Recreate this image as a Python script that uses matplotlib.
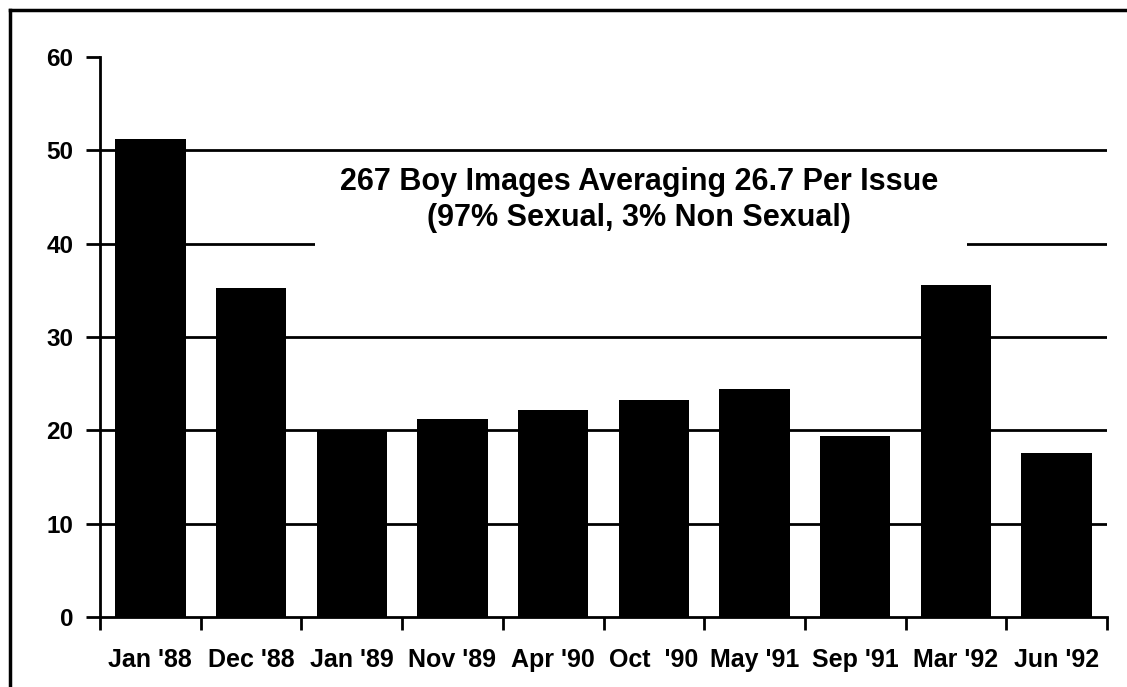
import matplotlib
matplotlib.use("Agg")
import matplotlib.pyplot as plt
from matplotlib.lines import Line2D
from matplotlib.patches import Rectangle
import numpy as np

categories = ["Jan '88", "Dec '88", "Jan '89", "Nov '89", "Apr '90",
              "Oct  '90", "May '91", "Sep '91", "Mar '92", "Jun '92"]
values = [51.2, 35.2, 19.9, 21.2, 22.2, 23.2, 24.4, 19.4, 35.6, 17.6]
yticks = [0, 10, 20, 30, 40, 50, 60]
note_lines = ["267 Boy Images Averaging 26.7 Per Issue",
              "(97% Sexual, 3% Non Sexual)"]

plt.rcParams['font.family'] = ['Liberation Sans', 'DejaVu Sans']
plt.rcParams['font.weight'] = 'bold'

fig = plt.figure(figsize=(11.27, 6.87), dpi=100)
ax = fig.add_axes([100/1127, 70/687, 1007/1127, 560/687])

x = np.arange(len(categories))
ax.bar(x, values, width=0.7, color='black', zorder=3)

ax.set_xlim(-0.5, len(categories) - 0.5)
ax.set_ylim(0, 60)
ax.set_yticks(yticks)
ax.set_yticklabels([str(t) for t in yticks], fontsize=17.5, fontweight='bold')

ax.set_xticks(x)
ax.set_xticklabels(categories, fontsize=18, fontweight='bold')
ax.set_xticks(np.arange(len(categories) + 1) - 0.5, minor=True)
ax.tick_params(axis='x', which='major', length=0, pad=22)
ax.tick_params(axis='x', which='minor', length=9, width=2, direction='out')
ax.tick_params(axis='y', which='major', length=10, width=2, pad=9)

for s in ['top', 'right']:
    ax.spines[s].set_visible(False)
for s in ['left', 'bottom']:
    ax.spines[s].set_linewidth(2)

ax.set_axisbelow(True)
ax.yaxis.grid(True, color='black', linewidth=2)
gl = ax.get_ygridlines()
gl[0].set_visible(False)
gl[-1].set_visible(False)

# white box behind annotation text covering gridlines
ax.add_patch(Rectangle((1.64, 38.5), 6.47, 10.5, facecolor='white',
                       edgecolor='none', zorder=2))
ax.text(4.85, 46.6, note_lines[0], ha='center', va='center', fontsize=22,
        fontweight='bold', zorder=4)
ax.text(4.85, 42.8, note_lines[1], ha='center', va='center', fontsize=22,
        fontweight='bold', zorder=4)

# partial frame (top and left)
fig.add_artist(Line2D([10/1127, 1.0], [1 - 10/687, 1 - 10/687],
                      transform=fig.transFigure, color='black', linewidth=2.5))
fig.add_artist(Line2D([10/1127, 10/1127], [0.0, 1 - 10/687],
                      transform=fig.transFigure, color='black', linewidth=2.5))

fig.savefig("out.png", dpi=100, facecolor='white')
